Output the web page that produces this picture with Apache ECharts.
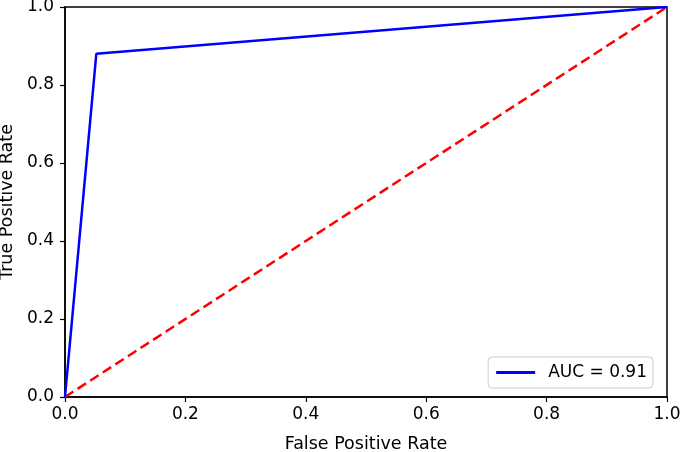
<!DOCTYPE html>
<html><head><meta charset="utf-8">
<script src="https://cdn.jsdelivr.net/npm/echarts@6/dist/echarts.min.js"></script>
<style>html,body{margin:0;padding:0;background:#fff}#c{width:685px;height:452px}</style>
</head><body><div id="c"></div>
<script>
const rocFpr = [0.0, 0.052, 1.0];
const rocTpr = [0.0, 0.88, 1.0];
const diagX = [0.0, 1.0];
const diagY = [0.0, 1.0];
const aucLabel = 'AUC = 0.91';
const xTitle = 'False Positive Rate';
const yTitle = 'True Positive Rate';

const font = 'DejaVu Sans';
const chart = echarts.init(document.getElementById('c'));
chart.setOption({
  animation: false,
  grid: {left: 65, right: 18, top: 7, bottom: 55, containLabel: false, outerBoundsMode: 'none',
    show: true, borderColor: '#000', borderWidth: 1.5},
  xAxis: {type: 'value', min: 0, max: 1, interval: 0.2,
    name: xTitle, nameLocation: 'middle', nameGap: 38,
    nameTextStyle: {fontFamily: font, fontSize: 17.5, color: '#000'},
    axisLine: {show: true, lineStyle: {color: '#000', width: 1.5}},
    axisTick: {show: true, inside: false, length: 5, lineStyle: {color: '#000', width: 1.2}},
    axisLabel: {fontFamily: font, fontSize: 17, color: '#000', margin: 9, formatter: v => v.toFixed(1)},
    splitLine: {show: false}},
  yAxis: {type: 'value', min: 0, max: 1, interval: 0.2,
    name: yTitle, nameLocation: 'middle', nameGap: 48,
    nameTextStyle: {fontFamily: font, fontSize: 17.5, color: '#000'},
    axisLine: {show: true, lineStyle: {color: '#000', width: 1.5}},
    axisTick: {show: true, inside: false, length: 5, lineStyle: {color: '#000', width: 1.2}},
    axisLabel: {fontFamily: font, fontSize: 17, color: '#000', margin: 11, formatter: v => v.toFixed(1)},
    splitLine: {show: false}},
  legend: {right: 32, bottom: 64, data: [{name: aucLabel, icon: 'path://M0,0L40,0L40,3L0,3Z'}],
    itemWidth: 39, itemHeight: 3, itemGap: 10,
    backgroundColor: '#fff', borderColor: '#ccc', borderWidth: 1, borderRadius: 4,
    padding: [7, 6, 7, 8],
    textStyle: {fontFamily: font, fontSize: 17, color: '#000', padding: [0, 0, 0, 8]}},
  series: [
    {name: 'diag', type: 'line', data: diagX.map((x, i) => [x, diagY[i]]), symbol: 'none',
      lineStyle: {color: '#ff0000', width: 2.5, type: [10, 5]}, z: 2},
    {name: aucLabel, type: 'line', data: rocFpr.map((x, i) => [x, rocTpr[i]]), symbol: 'none',
      itemStyle: {color: '#0000ff'},
      lineStyle: {color: '#0000ff', width: 2.5}, z: 3}
  ]
});
</script></body></html>
